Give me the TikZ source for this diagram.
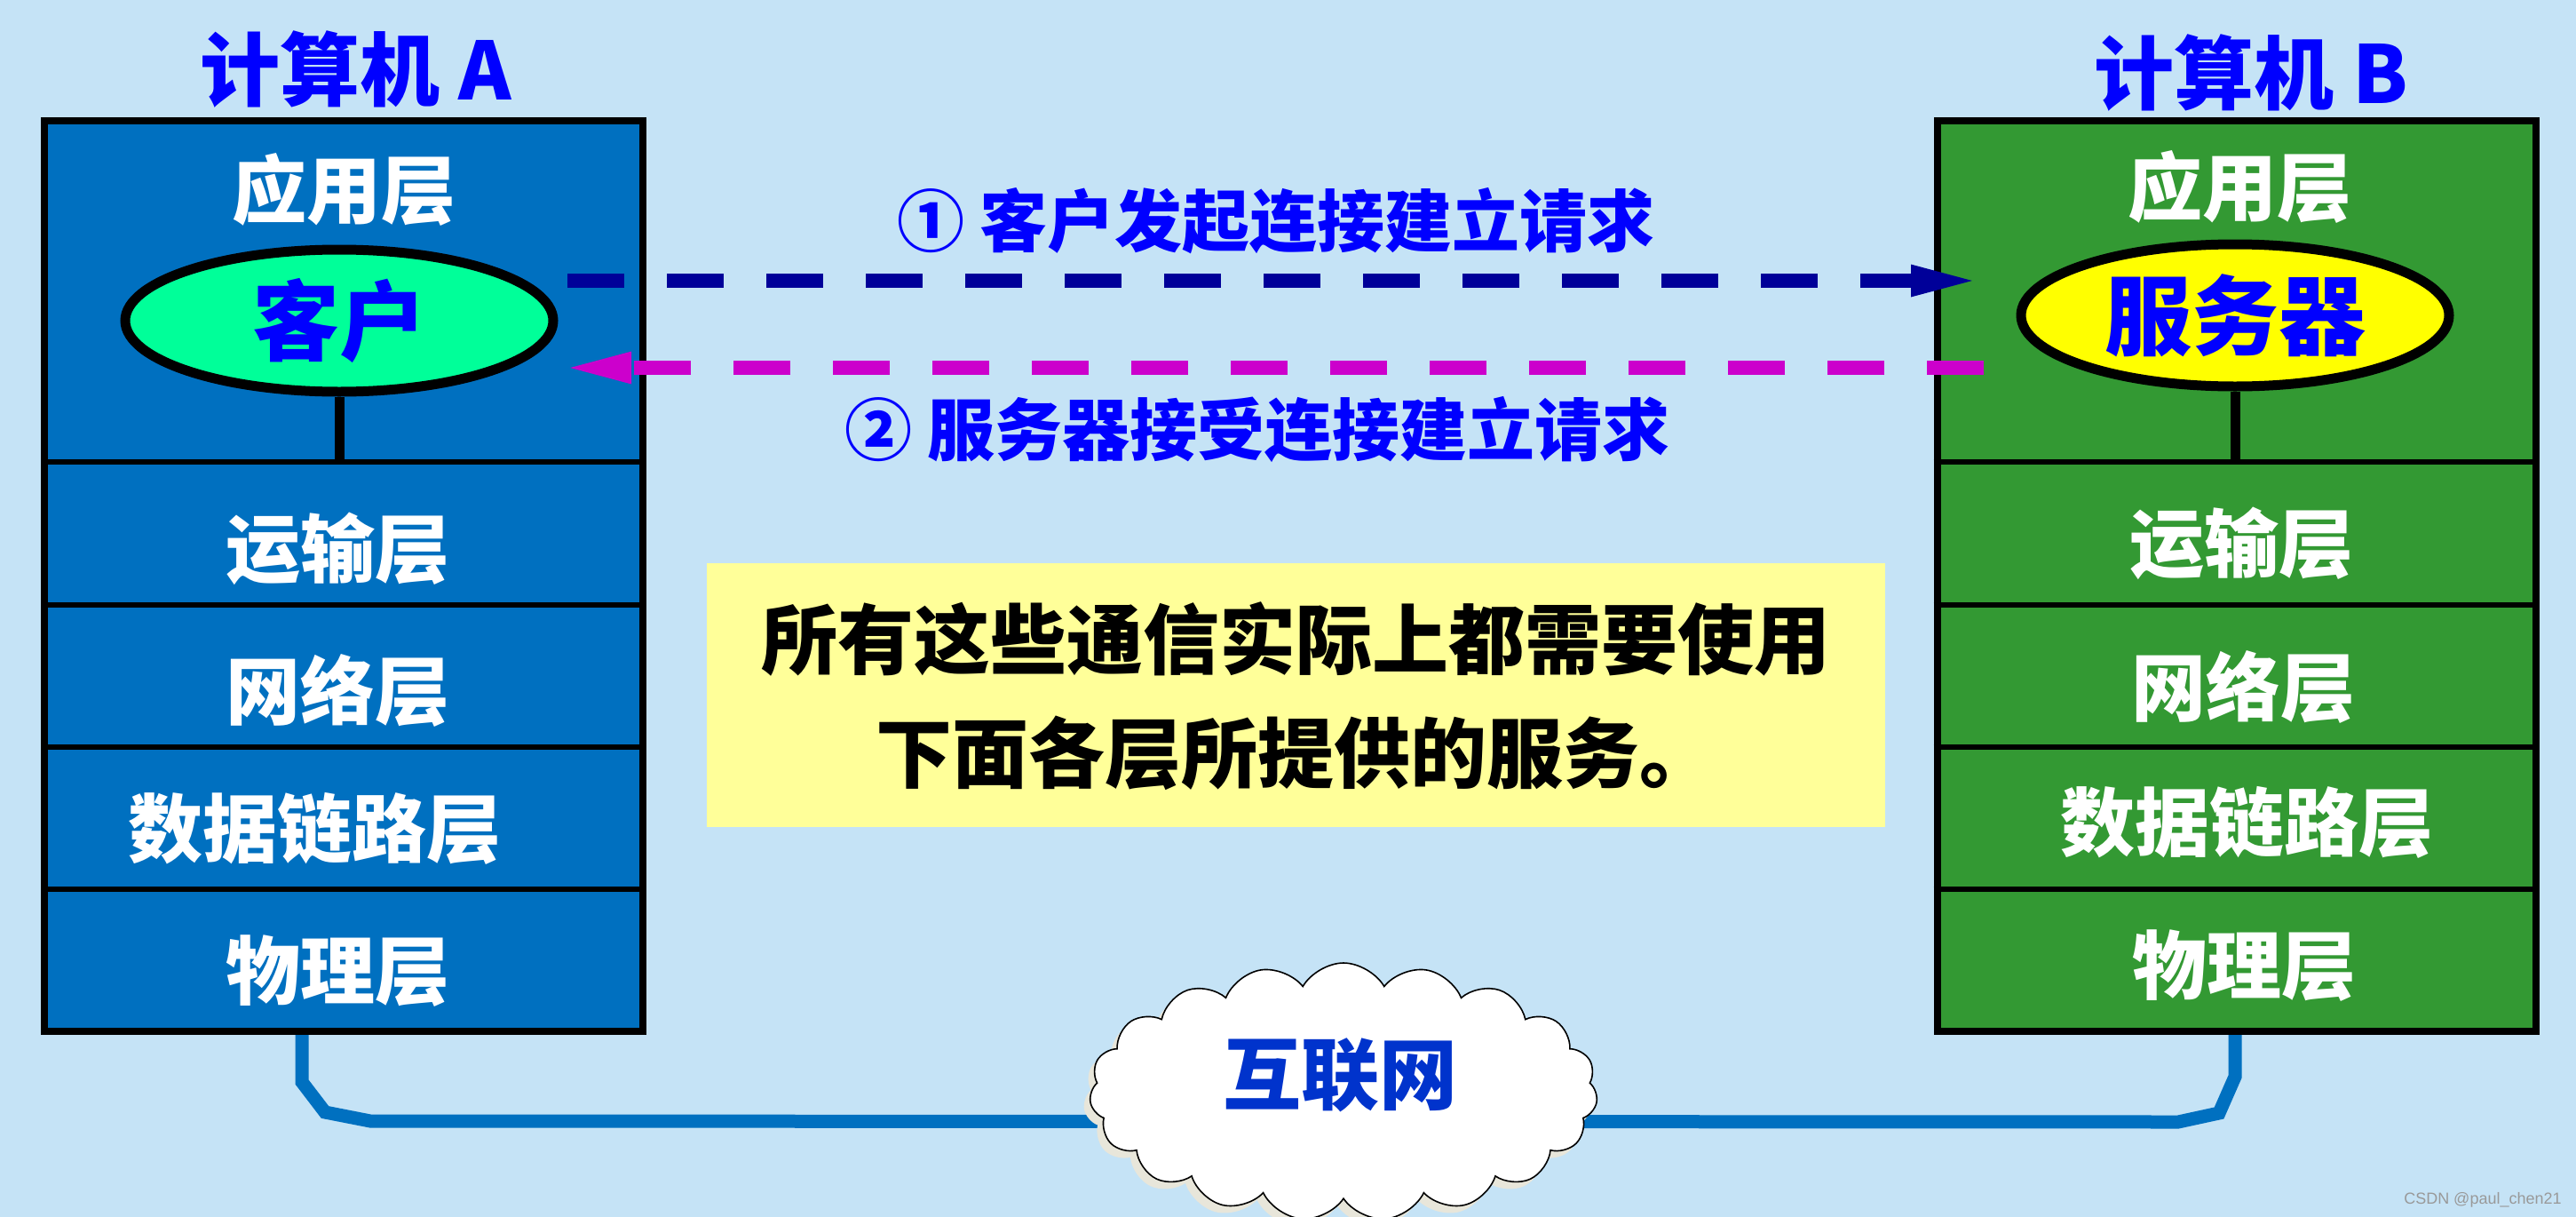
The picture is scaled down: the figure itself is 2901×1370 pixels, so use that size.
\documentclass[tikz,border=0pt]{standalone}
\usepackage{fontspec}
\newfontfamily\cjk{Noto Sans CJK SC}
\newfontfamily\wmfont{Liberation Sans}
\usetikzlibrary{arrows.meta,shapes.symbols,shapes.geometric}
\definecolor{bg}{HTML}{C5E3F6}
\definecolor{boxAc}{HTML}{0070C0}
\definecolor{boxBc}{HTML}{339933}
\definecolor{cligreen}{HTML}{00FF99}
\definecolor{srvyellow}{HTML}{FFFF00}
\definecolor{tblue}{HTML}{0000FF}
\definecolor{arrblue}{HTML}{000099}
\definecolor{arrmag}{HTML}{CC00CC}
\definecolor{notey}{HTML}{FFFF99}
\definecolor{netblue}{HTML}{0033CC}
\definecolor{wirec}{HTML}{0070C0}
\definecolor{shadowc}{HTML}{E8E6DA}
\newcommand{\fsz}[1]{\fontsize{#1}{#1}\selectfont}
\begin{document}
\begin{tikzpicture}[x=0.5pt,y=-0.5pt,
  stack/.style={draw=black, line width=4pt, minimum width=337pt, minimum height=512.5pt, inner sep=0pt},
  divider/.style={draw=black, line width=3pt},
  stem/.style={draw=black, line width=5.5pt},
  ell/.style={ellipse, draw=black, line width=5.5pt, minimum width=241pt, minimum height=80pt, inner sep=0pt, text=tblue, font=\cjk\bfseries\fsz{49}},
  ltext/.style={text=white, font=\cjk\bfseries\fsz{42}, inner sep=0pt},
  ttl/.style={text=tblue, font=\cjk\bfseries\fsz{45}, inner sep=0pt},
  lbl/.style={text=tblue, font=\cjk\bfseries\fsz{38}, inner sep=0pt},
  dasharrow/.style={line width=8pt, dash pattern=on 32pt off 24pt, -{Triangle[length=40pt,width=15.5pt]}},
  wire/.style={draw=wirec, line width=7.5pt},
  cloudshape/.style={cloud, cloud puffs=19, cloud puff arc=120, aspect=2.0, draw=black, line width=0.8pt, fill=white, minimum width=286pt, minimum height=145pt, inner sep=0pt},
  notebox/.style={fill=notey, minimum width=663.5pt, minimum height=148.5pt, inner sep=0pt},
  notetext/.style={text=black, font=\cjk\bfseries\fontsize{43}{64}\selectfont, align=center, inner sep=0pt},
  nettext/.style={text=netblue, font=\cjk\bfseries\fsz{44}, inner sep=0pt}
]
\useasboundingbox (0,0) rectangle (2901,1370);
\fill[bg] (0,0) rectangle (2901,1370);

% wire between the two stacks
\coordinate (wA) at (340,1162);
\coordinate (wB) at (2517,1162);
\draw[wire] (wA) -- (340,1218) -- (366,1252) -- (417,1262) -- (2453,1263) -- (2499,1253) -- (2517,1212) -- (wB);

% cloud
\node[cloudshape, fill=shadowc, draw=none] (netshadow) at (1506,1237) {};
\node[cloudshape] (net) at (1513,1229) {};
\node[nettext] (netlbl) at (1509,1210) {互联网};

% computer A
\node[ttl] (tA) at (401,78) {计算机 A};
\node[stack, fill=boxAc] (boxA) at (387,648.5) {};
\foreach \y in {520,681,841,1001} \draw[divider] (boxA.west |- 0,\y) -- (boxA.east |- 0,\y);
\node[ltext] (appA) at (387,213) {应用层};
\node[ell, fill=cligreen] (cliA) at (382,361) {客户};
\draw[stem] (cliA.south) -- (cliA.south |- 0,520);
\node[ltext] (trA) at (380,618) {运输层};
\node[ltext] (nwA) at (380,777) {网络层};
\node[ltext] (dlA) at (354,933) {数据链路层};
\node[ltext] (phA) at (380,1093) {物理层};

% computer B
\node[ttl] (tB) at (2535,82) {计算机 B};
\node[stack, fill=boxBc] (boxB) at (2518.5,648.5) {};
\foreach \y in {520,681,841,1001} \draw[divider] (boxB.west |- 0,\y) -- (boxB.east |- 0,\y);
\node[ltext] (appB) at (2522,210) {应用层};
\node[ell, fill=srvyellow] (srvB) at (2517,355) {服务器};
\draw[stem] (srvB.south) -- (srvB.south |- 0,520);
\node[ltext] (trB) at (2524,612) {运输层};
\node[ltext] (nwB) at (2526,773) {网络层};
\node[ltext] (dlB) at (2530,926) {数据链路层};
\node[ltext] (phB) at (2527,1087) {物理层};

% requests
\coordinate (r1s) at (639,316);
\coordinate (r1e) at (2232,316);
\draw[dasharrow, draw=arrblue] (r1s) -- (r1e);
\node[lbl] (l1) at (1437,249) {① 客户发起连接建立请求};
\coordinate (r2s) at (2234,414);
\coordinate (r2e) at (631,414);
\draw[dasharrow, draw=arrmag] (r2s) -- (r2e);
\node[lbl] (l2) at (1416,484) {② 服务器接受连接建立请求};

% note
\node[notebox] (note) at (1459.5,782.5) {};
\node[notetext] (notetxt) at (1459.5,784) {所有这些通信实际上都需要使用\\下面各层所提供的服务。};

% watermark
\node[anchor=south east, inner sep=0pt, text=black!40, font=\wmfont\fsz{9}] (wm) at (2885,1360) {CSDN @paul\_chen21};
\end{tikzpicture}
\end{document}
